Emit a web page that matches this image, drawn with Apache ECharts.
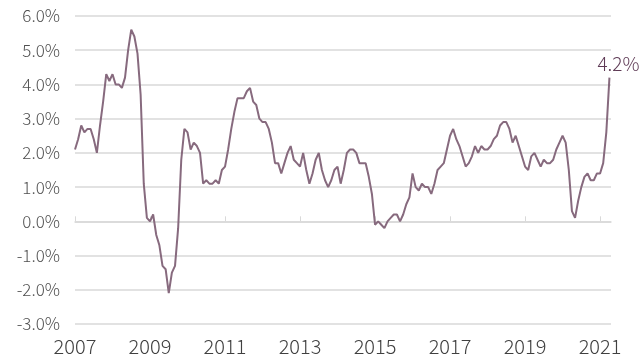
<!DOCTYPE html>
<html>
<head>
<meta charset="utf-8">
<script src="https://cdn.jsdelivr.net/npm/echarts@6/dist/echarts.min.js"></script>
<style>
  html, body { margin: 0; padding: 0; background: #fff; }
  #chart { width: 640px; height: 362px; }
</style>
</head>
<body>
<div id="chart"></div>
<script>
// monthly yoy inflation, Jan 2007 .. Apr 2021 (%)
let firstYear = 2007
let yearTicks = [2007, 2009, 2011, 2013, 2015, 2017, 2019, 2021]
let yTicks = [-3, -2, -1, 0, 1, 2, 3, 4, 5, 6]
let inflation = [
  2.1, 2.4, 2.8, 2.6, 2.7, 2.7, 2.4, 2.0, 2.8, 3.5, 4.3, 4.1,   // 2007
  4.3, 4.0, 4.0, 3.9, 4.2, 5.0, 5.6, 5.4, 4.9, 3.7, 1.1, 0.1,   // 2008
  0.0, 0.2, -0.4, -0.7, -1.3, -1.4, -2.1, -1.5, -1.3, -0.2, 1.8, 2.7, // 2009
  2.6, 2.1, 2.3, 2.2, 2.0, 1.1, 1.2, 1.1, 1.1, 1.2, 1.1, 1.5,   // 2010
  1.6, 2.1, 2.7, 3.2, 3.6, 3.6, 3.6, 3.8, 3.9, 3.5, 3.4, 3.0,   // 2011
  2.9, 2.9, 2.7, 2.3, 1.7, 1.7, 1.4, 1.7, 2.0, 2.2, 1.8, 1.7,   // 2012
  1.6, 2.0, 1.5, 1.1, 1.4, 1.8, 2.0, 1.5, 1.2, 1.0, 1.2, 1.5,   // 2013
  1.6, 1.1, 1.5, 2.0, 2.1, 2.1, 2.0, 1.7, 1.7, 1.7, 1.3, 0.8,   // 2014
  -0.1, 0.0, -0.1, -0.2, 0.0, 0.1, 0.2, 0.2, 0.0, 0.2, 0.5, 0.7, // 2015
  1.4, 1.0, 0.9, 1.1, 1.0, 1.0, 0.8, 1.1, 1.5, 1.6, 1.7, 2.1,   // 2016
  2.5, 2.7, 2.4, 2.2, 1.9, 1.6, 1.7, 1.9, 2.2, 2.0, 2.2, 2.1,   // 2017
  2.1, 2.2, 2.4, 2.5, 2.8, 2.9, 2.9, 2.7, 2.3, 2.5, 2.2, 1.9,   // 2018
  1.6, 1.5, 1.9, 2.0, 1.8, 1.6, 1.8, 1.7, 1.7, 1.8, 2.1, 2.3,   // 2019
  2.5, 2.3, 1.5, 0.3, 0.1, 0.6, 1.0, 1.3, 1.4, 1.2, 1.2, 1.4,   // 2020
  1.4, 1.7, 2.6, 4.2                                            // 2021
]

let chart = echarts.init(document.getElementById('chart'))
let seriesData = inflation.map((v, i) => [i, v])

let option = {
  animation: false,
  grid: { left: 75, right: 29, top: 16, bottom: 38 },
  xAxis: {
    type: 'value',
    min: 0,
    max: 171.5,
    interval: 24,
    axisLine: { show: true, lineStyle: { color: '#d9d9d9', width: 1.5 } },
    axisTick: { show: true, inside: true, length: 5, lineStyle: { color: '#d9d9d9', width: 1 } },
    splitLine: { show: false },
    axisLabel: {
      margin: 12,
      color: '#404040',
      fontSize: 20,
      fontWeight: 300,
      fontFamily: 'Noto Sans CJK KR',
      showMaxLabel: false,
      formatter: v => {
        let y = firstYear + Math.round(v / 12)
        return yearTicks.includes(y) ? String(y) : ''
      }
    }
  },
  yAxis: {
    type: 'value',
    min: yTicks[0],
    max: yTicks[yTicks.length - 1],
    interval: 1,
    axisLine: { show: false },
    axisTick: { show: false },
    splitLine: { lineStyle: { color: '#d9d9d9', width: 1.5 } },
    axisLabel: {
      margin: 15,
      color: '#505050',
      fontSize: 17,
      fontWeight: 300,
      fontFamily: 'Noto Sans CJK KR',
      formatter: v => v.toFixed(1) + '%'
    }
  },
  series: [{
    type: 'line',
    data: seriesData,
    showSymbol: false,
    symbol: 'none',
    lineStyle: { color: '#876a7e', width: 2 },
    endLabel: {
      show: true,
      distance: 0,
      offset: [-12, -14],
      formatter: p => p.value[1].toFixed(1) + '%',
      color: '#5e3a55',
      fontSize: 19,
      fontWeight: 300,
      fontFamily: 'Noto Sans CJK KR'
    },
    z: 3
  }]
}
chart.setOption(option)
</script>
</body>
</html>
